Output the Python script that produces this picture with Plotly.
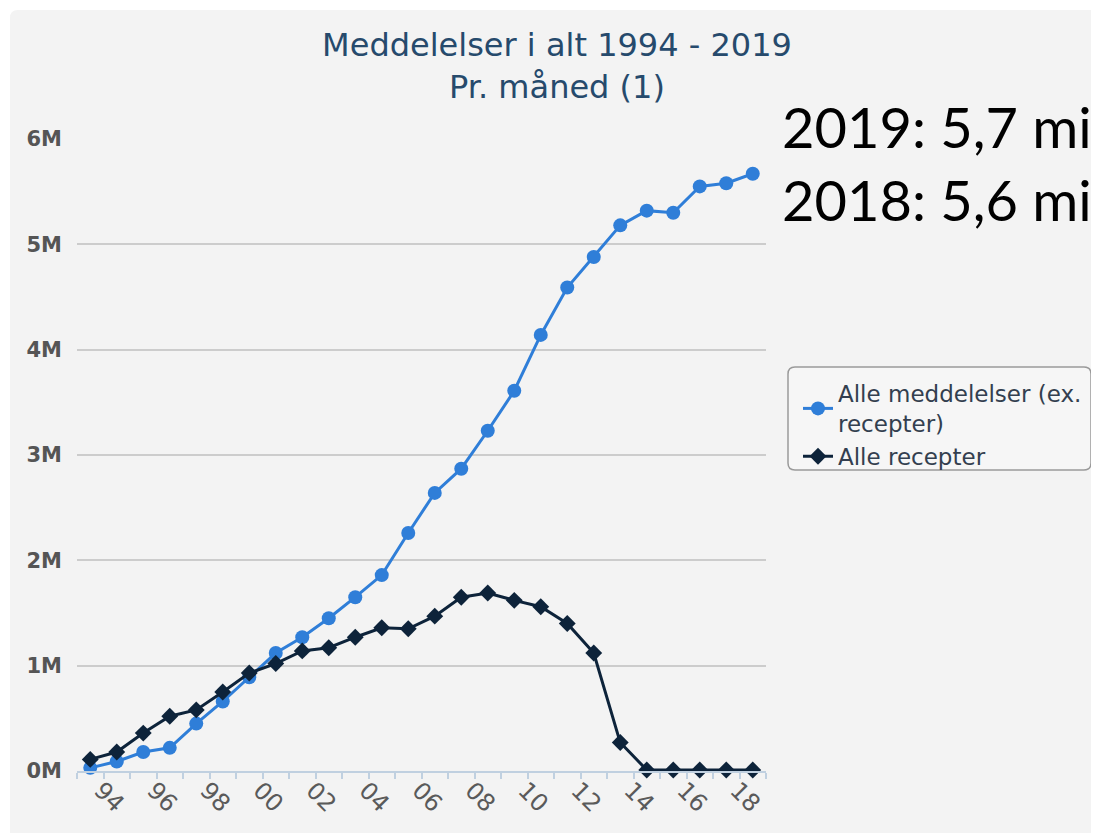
import plotly.graph_objects as go

# ---- data (values in millions) ----
years = list(range(1994, 2020))
meddelelser = [0.03, 0.09, 0.18, 0.22, 0.45, 0.66, 0.89, 1.12, 1.27, 1.45, 1.65, 1.86, 2.26,
               2.64, 2.87, 3.23, 3.61, 4.14, 4.59, 4.88, 5.18, 5.32, 5.30, 5.55, 5.58, 5.67]
recepter = [0.11, 0.18, 0.36, 0.52, 0.58, 0.75, 0.93, 1.02, 1.14, 1.17, 1.27, 1.36, 1.35,
            1.47, 1.65, 1.69, 1.62, 1.56, 1.40, 1.12, 0.27, 0.01, 0.01, 0.01, 0.01, 0.01]
x_tick_years = list(range(1994, 2019, 2))
x_tick_text = ["94", "96", "98", "00", "02", "04", "06", "08", "10", "12", "14", "16", "18"]
y_tick_vals = [0, 1, 2, 3, 4, 5, 6]
y_tick_text = ["0M", "1M", "2M", "3M", "4M", "5M", "6M"]
series_names = ["Alle meddelelser (ex.<br>recepter)", "Alle recepter"]
title_text = "Meddelelser i alt 1994 - 2019<br>Pr. måned (1)"
side_text = "2019: 5,7 mi<br>2018: 5,6 mi"

# ---- geometry (pixels, page has an 8px body margin) ----
OFF = 8
W, H = 1099 - OFF, 833 - OFF
L, R, T, B = 77 - OFF, 333, 139 - OFF, 62
PW, PH = W - L - R, H - T - B


def px(x):
    return (x - OFF - L) / PW


def py(y):
    return (H - B - (y - OFF)) / PH


def rounded_rect(x0p, y0p, x1p, y1p, r):
    a, b, c, d = px(x0p), px(x1p), py(y0p), py(y1p)  # c top, d bottom
    rx, ry = r / PW, r / PH
    return (f"M {a+rx},{c} L {b-rx},{c} Q {b},{c} {b},{c-ry} L {b},{d+ry} "
            f"Q {b},{d} {b-rx},{d} L {a+rx},{d} Q {a},{d} {a},{d+ry} "
            f"L {a},{c-ry} Q {a},{c} {a+rx},{c} Z")


fig = go.Figure()
fig.add_trace(go.Scatter(
    x=years, y=meddelelser, name=series_names[0], mode="lines+markers",
    line=dict(color="#2f7ed8", width=3),
    marker=dict(symbol="circle", size=14, color="#2f7ed8"),
    cliponaxis=False,
))
fig.add_trace(go.Scatter(
    x=years, y=recepter, name=series_names[1], mode="lines+markers",
    line=dict(color="#0d233a", width=3),
    marker=dict(symbol="diamond", size=13, color="#0d233a"),
    cliponaxis=False,
))

boundaries = [y - 0.5 for y in years] + [years[-1] + 0.5]

fig.update_layout(
    width=W, height=H, autosize=False,
    margin=dict(l=L, r=R, t=T, b=B, pad=0),
    paper_bgcolor="#ffffff",
    plot_bgcolor="rgba(0,0,0,0)",
    font=dict(family="DejaVu Sans", color="#666666"),
    title=dict(
        text=title_text, xref="container", yref="container",
        x=(557 - OFF) / W, y=1 - 48 / H, xanchor="center", yanchor="middle",
        font=dict(family="DejaVu Sans", size=32, color="#264a6c"),
    ),
    xaxis=dict(
        range=[boundaries[0], boundaries[-1]],
        tickmode="array", tickvals=x_tick_years, ticktext=x_tick_text,
        tickangle=45, ticks="", showgrid=False, zeroline=False,
        showline=True, linecolor="#c0d0e0", linewidth=1.5,
        tickfont=dict(family="DejaVu Sans", size=24, color="#5a5a5a"),
        ticklabelstandoff=-6, ticklabelshift=11,
        minor=dict(tickmode="array", tickvals=boundaries, ticks="outside",
                   ticklen=6, tickwidth=1.5, tickcolor="#c0d0e0", showgrid=False),
    ),
    yaxis=dict(
        range=[0, 6], tickmode="array", tickvals=y_tick_vals, ticktext=y_tick_text,
        showgrid=True, gridcolor="#cccccc", gridwidth=1.5, zeroline=False,
        showline=False, ticks="",
        tickfont=dict(family="DejaVu Sans", size=21, color="#555555", weight="bold"),
        ticklabelstandoff=14,
    ),
    legend=dict(
        x=px(798), y=py(372), xanchor="left", yanchor="top",
        bgcolor="rgba(0,0,0,0)", borderwidth=0,
        font=dict(family="DejaVu Sans", size=23, color="#333f4f"),
        itemwidth=30, tracegroupgap=0,
    ),
    shapes=[
        dict(type="path", xref="paper", yref="paper", layer="below",
             path=rounded_rect(10, 10, 1140, 880, 8),
             fillcolor="#f3f3f3", line=dict(width=0)),
        dict(type="path", xref="paper", yref="paper", layer="below",
             path=rounded_rect(788, 367, 1091, 470, 7),
             fillcolor="rgba(255,255,255,0.25)", line=dict(color="#9a9a9a", width=1.5)),
    ],
    annotations=[
        dict(text=side_text, xref="paper", yref="paper", x=px(780), y=py(163),
             xanchor="left", yanchor="middle", align="left", showarrow=False,
             font=dict(family="Lato", size=56, color="#000000")),
    ],
)

fig.write_html("out.html")
